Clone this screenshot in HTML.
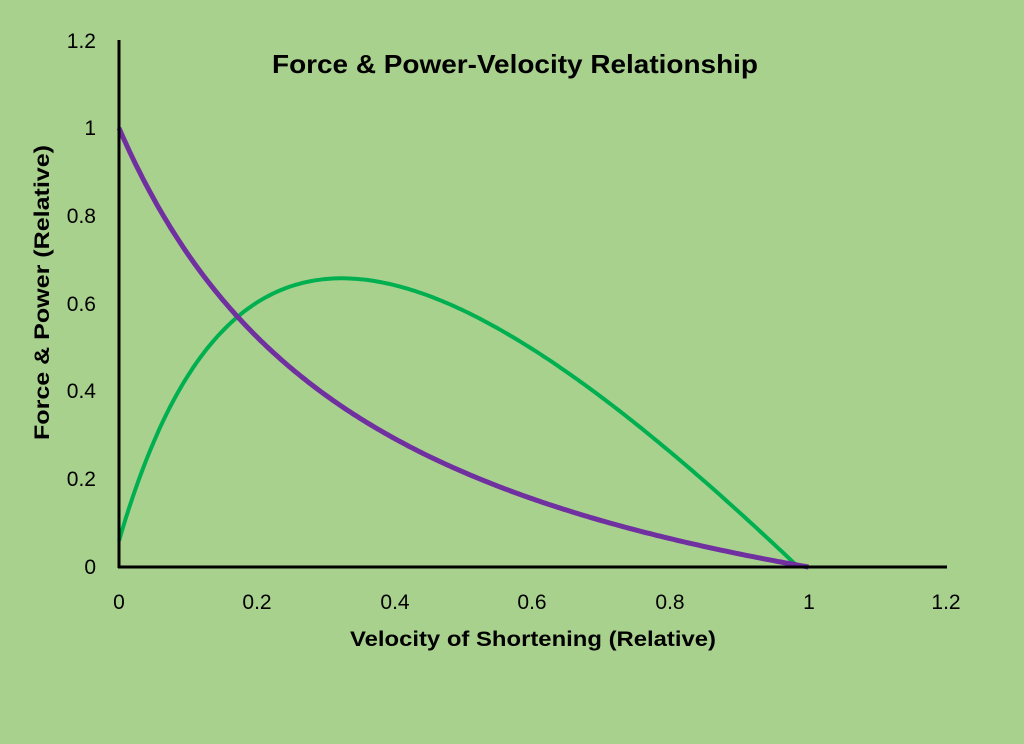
<!DOCTYPE html>
<html><head><meta charset="utf-8"><style>
html,body{margin:0;padding:0;background:#a9d18e;}
svg{display:block;font-family:"Liberation Sans",Arial,sans-serif;}
</style></head><body>
<svg id="s" width="1024" height="744" viewBox="0 0 1024 744">
<rect width="1024" height="744" fill="#a9d18e"/>
<text x="272" y="73" font-size="26" font-weight="bold" textLength="486" lengthAdjust="spacingAndGlyphs" fill="#000">Force &amp; Power-Velocity Relationship</text>
<g font-size="21" fill="#000" text-anchor="end">
<text x="96" y="48">1.2</text>
<text x="96" y="135">1</text>
<text x="96" y="223">0.8</text>
<text x="96" y="311">0.6</text>
<text x="96" y="398">0.4</text>
<text x="96" y="486">0.2</text>
<text x="96" y="574">0</text>
</g>
<g font-size="21" fill="#000" text-anchor="middle">
<text x="119" y="609">0</text>
<text x="257" y="609">0.2</text>
<text x="395" y="609">0.4</text>
<text x="532" y="609">0.6</text>
<text x="670" y="609">0.8</text>
<text x="809" y="609">1</text>
<text x="946" y="609">1.2</text>
</g>
<text x="350" y="646" font-size="21" font-weight="bold" textLength="366" lengthAdjust="spacingAndGlyphs">Velocity of Shortening  (Relative)</text>
<text transform="translate(49,440) rotate(-90)" font-size="21" font-weight="bold" textLength="295" lengthAdjust="spacingAndGlyphs">Force &amp; Power (Relative)</text>
<path id="g" fill="none" stroke="#00b050" stroke-width="4"/>
<path id="p" fill="none" stroke="#7030a0" stroke-width="5"/>
<line x1="119" y1="40" x2="119" y2="568" stroke="#000" stroke-width="3"/>
<line x1="118" y1="567" x2="947" y2="567" stroke="#000" stroke-width="3"/>
</svg>
<script>
function X(v){return 119+v*689.5;}function Y(f){return 567-f*439;}
var a=0.38,p="",g="";
for(var i=0;i<=200;i++){var v=i/200;var F=(1-v)/(1+v/a);p+=(i?"L":"M")+X(v).toFixed(1)+" "+Y(F).toFixed(1);}
for(var i=0;i<=200;i++){var v=i/200*0.985;var P=5.64*(v+0.0106)*(1-v/0.985)/(1+v/0.35);g+=(i?"L":"M")+X(v).toFixed(1)+" "+Y(P).toFixed(1);}
document.getElementById("p").setAttribute("d",p);
document.getElementById("g").setAttribute("d",g);
</script>
</body></html>
